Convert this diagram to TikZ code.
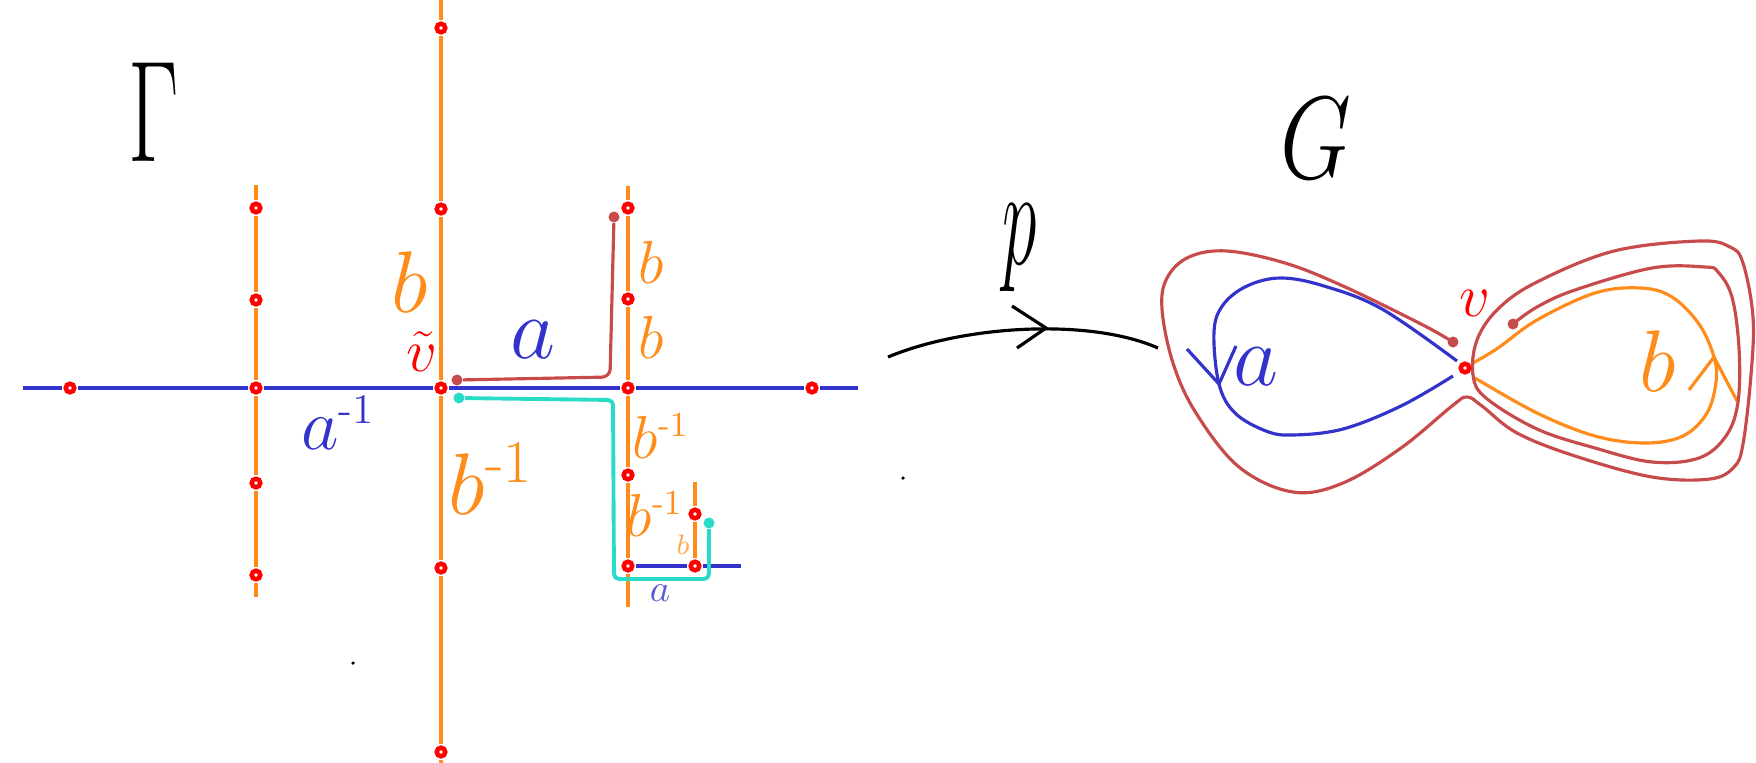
\documentclass[tikz,border=0pt]{standalone}
\usepackage{amsmath}
\usepackage{tikz}
\definecolor{gorange}{RGB}{255,140,26}
\definecolor{gblue}{RGB}{51,51,204}
\definecolor{gbrown}{RGB}{200,75,75}
\definecolor{gcyan}{RGB}{42,220,200}
\definecolor{lorange}{RGB}{255,170,80}
\definecolor{lblue}{RGB}{90,90,210}
\def \lw{0.9pt}
\def \inv{^{\scriptscriptstyle\text{-}1}}

\begin{document}
\begin{tikzpicture}[x=0.01cm, y=-0.01cm,
    vtx/.style={shape=circle, draw=red, fill=white, line width=1.3pt, minimum size=0.085cm, inner sep=0pt, outer sep=0.042cm},
    tipdot/.style={shape=circle, fill=#1, minimum size=0.11cm, inner sep=0pt},
    lab/.style={inner sep=0pt, font=\fontsize{#1}{#1}\selectfont},
    linea/.style={draw=gblue, line width=\lw},
    lineb/.style={draw=gorange, line width=\lw}]
    \useasboundingbox (0,0) rectangle (1756,763);

    % the tree Gamma
    \coordinate (hL) at (23,388);
    \coordinate (hR) at (858,388);
    \node[vtx] (h1) at (70,388) {};
    \node[vtx] (h2) at (256,388) {};
    \node[vtx] (h3) at (441,388) {};
    \node[vtx] (h4) at (628,388) {};
    \node[vtx] (h5) at (812,388) {};

    \coordinate (lT) at (256,185);
    \coordinate (lB) at (256,597);
    \node[vtx] (l1) at (256,208) {};
    \node[vtx] (l2) at (256,300) {};
    \node[vtx] (l4) at (256,483) {};
    \node[vtx] (l5) at (256,575) {};

    \coordinate (cT) at (441,0);
    \coordinate (cB) at (441,763);
    \node[vtx] (c1) at (441,28) {};
    \node[vtx] (c2) at (441,209) {};
    \node[vtx] (c4) at (441,568) {};
    \node[vtx] (c5) at (441,752) {};

    \coordinate (rT) at (628,186);
    \coordinate (rB) at (628,607);
    \node[vtx] (r1) at (628,208) {};
    \node[vtx] (r2) at (628,299) {};
    \node[vtx] (r4) at (628,475) {};
    \node[vtx] (r5) at (628,566) {};

    \coordinate (sT) at (695,482);
    \coordinate (sR) at (741,566);
    \node[vtx] (s1) at (695,514) {};
    \node[vtx] (s2) at (695,566) {};

    \draw[linea] (hL) -- (h1) -- (h2) -- (h3) -- (h4) -- (h5) -- (hR);
    \draw[lineb] (lT) -- (l1) -- (l2) -- (h2) -- (l4) -- (l5) -- (lB);
    \draw[lineb] (cT) -- (c1) -- (c2) -- (h3) -- (c4) -- (c5) -- (cB);
    \draw[lineb] (rT) -- (r1) -- (r2) -- (h4) -- (r4) -- (r5) -- (rB);
    \draw[lineb] (sT) -- (s1) -- (s2);
    \draw[linea] (r5) -- (s2) -- (sR);

    % lifted paths
    \node[tipdot=gbrown] (br0) at (457,380) {};
    \node[tipdot=gbrown] (br1) at (614,217) {};
    \draw[gbrown, line width=\lw, rounded corners=0.08cm] (br0) -- (610,377) -- (br1);
    \node[tipdot=gcyan] (cy0) at (459,398) {};
    \node[tipdot=gcyan] (cy1) at (709,523) {};
    \draw[gcyan, line width=1.1pt, rounded corners=0.05cm] (cy0) -- (613,400) -- (614,579) -- (709,579) -- (cy1);

    % labels on Gamma
    \node[lab=24.88] (gam) at (154,112) {\scalebox{1}[1.65]{$\Gamma$}};
    \node[lab=24.88, text=gorange] (lb1) at (410,282) {$b$};
    \node[lab=17.28, text=red] (lvt) at (422,352) {$\tilde{v}$};
    \node[lab=20.74, text=gblue] (lai) at (338,423) {$a\inv$};
    \node[lab=24.88, text=gblue] (la1) at (533,340) {$a$};
    \node[lab=17.28, text=gorange] (lb2) at (651,262) {$b$};
    \node[lab=17.28, text=gorange] (lb3) at (651,337) {$b$};
    \node[lab=17.28, text=gorange] (lbi1) at (661,436) {$b\inv$};
    \node[lab=24.88, text=gorange] (lbi2) at (491,479) {$b\inv$};
    \node[lab=17.28, text=gorange] (lbi3) at (655,514) {$b\inv$};
    \node[lab=8, text=lorange] (lb4) at (683,545) {$b$};
    \node[lab=10.95, text=lblue] (la2) at (660,593) {$a$};
    \fill (353,663) circle[radius=0.5pt];
    \fill (903,478) circle[radius=0.5pt];

    % the map p
    \coordinate (pL) at (888,357);
    \coordinate (pR) at (1158,348);
    \coordinate (pA) at (1012,306);
    \coordinate (pT) at (1046,328);
    \coordinate (pB) at (1017,348);
    \draw[line width=0.9pt] (pL) .. controls (965,325) and (1090,318) .. (pR);
    \draw[line width=0.9pt] (pA) -- (pT) -- (pB);
    \node[lab=24.88] (pp) at (1020,248) {\scalebox{0.8}[1.6]{$p$}};

    % the rose G
    \node[lab=24.88] (gG) at (1316,138) {\scalebox{1.05}[1.34]{$G$}};
    \draw[gblue, line width=\lw] plot[smooth, tension=0.6] coordinates {(1457,361) (1382,309) (1324,286) (1281,278) (1247,286) (1223,305) (1214,332) (1219,384) (1235,413) (1266,431) (1293,435) (1343,429) (1401,406) (1453,376)};
    \draw[gblue, line width=\lw] (1187,349) -- (1219,384) -- (1236,346);
    \draw[gorange, line width=\lw] plot[smooth, tension=0.6] coordinates {(1475,378) (1537,413) (1595,436) (1645,443) (1683,436) (1707,413) (1716,382) (1714,357) (1699,324) (1672,297) (1641,288) (1595,293) (1537,320) (1498,348) (1473,363)};
    \draw[gorange, line width=\lw] (1689,390) -- (1714,357) -- (1737,401);
    \node[tipdot=gbrown] (gr0) at (1453,342) {};
    \node[tipdot=gbrown] (gr1) at (1513,324) {};
    \draw[gbrown, line width=\lw] plot[smooth, tension=0.6] coordinates {(1453,342) (1421,324) (1343,286) (1285,263) (1227,251) (1189,257) (1167,278) (1162,309) (1173,363) (1196,413) (1239,467) (1293,492) (1343,483) (1401,448) (1452,406) (1467,397) (1482,406) (1517,433) (1575,456) (1652,477) (1710,479) (1734,467) (1743,444) (1751,375) (1753,317) (1743,263) (1730,247) (1699,241) (1614,251) (1537,282) (1498,309) (1477,340) (1473,375) (1486,398) (1537,429) (1595,448) (1652,462) (1699,458) (1726,436) (1738,402) (1739,348) (1732,297) (1718,272) (1705,267) (1652,268) (1575,290) (1537,307) (1513,324)};
    \node[vtx] (vG) at (1465,368) {};
    \node[lab=17.28, text=red] (lvG) at (1475,303) {$v$};
    \node[lab=24.88, text=gblue] (laG) at (1256,367) {$a$};
    \node[lab=24.88, text=gorange] (lbG) at (1658,361) {$b$};
\end{tikzpicture}
\end{document}
